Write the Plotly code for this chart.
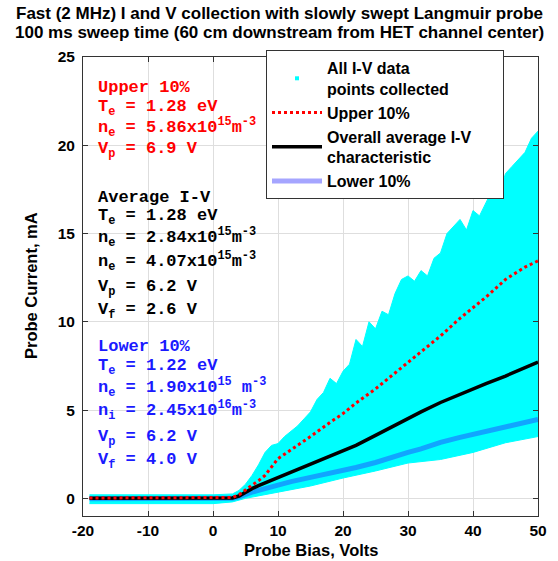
import plotly.graph_objects as go

# ---------------- data ----------------
# envelope of the cloud of all collected I-V points
cloud_x_top = [-19, -10, 0, 3, 4, 5, 6, 7, 8, 9, 10, 11, 12, 13, 14, 15, 16, 17, 18, 19, 20,
               21, 22, 23, 24, 25, 26, 27, 28, 29, 30, 31, 32, 33, 34, 35, 36, 37, 38, 39, 40,
               41, 42, 43, 44, 45, 46, 47, 48, 49, 50]
cloud_top = [0.2, 0.2, 0.2, 0.25, 0.45, 0.8, 1.3, 1.9, 2.6, 3.0, 3.1, 3.5, 3.8, 4.1, 4.5, 4.9, 5.6, 6.0, 6.8, 6.5, 7.2,
             7.6, 9.0, 8.6, 10.0, 9.6, 10.6, 10.4, 11.6, 12.4, 12.6, 12.3, 12.9, 12.6, 13.6, 13.9, 15.0, 15.4, 15.8, 15.2, 16.3,
             16.0, 16.8, 17.5, 17.2, 18.4, 18.8, 19.2, 19.6, 20.4, 20.8]
cloud_x_bot = [50, 45, 40, 35, 30, 25, 20, 15, 10, 5, 3, 0, -10, -19]
cloud_bot = [3.5, 3.15, 2.6, 2.2, 2.0, 1.55, 1.15, 0.7, 0.35, 0.0, -0.2, -0.3, -0.3, -0.3]

line_x = [-19, -10, 0, 3, 4, 5, 6, 7, 8, 10, 12, 15, 18, 20, 22, 25, 28, 30, 32, 35, 38, 40, 42, 45, 48, 50]
upper10 = [0.02, 0.02, 0.02, 0.05, 0.2, 0.5, 0.75, 1.0, 1.3, 2.25, 2.75, 3.5, 4.3, 4.8, 5.4, 6.2, 7.1, 7.7, 8.3, 9.2, 10.2, 10.8, 11.4, 12.4, 13.1, 13.45]
average = [0.0, 0.0, 0.0, 0.02, 0.13, 0.36, 0.55, 0.72, 0.87, 1.2, 1.45, 1.9, 2.35, 2.68, 3.0, 3.57, 4.15, 4.55, 4.9, 5.43, 5.9, 6.17, 6.5, 6.93, 7.4, 7.72]
lower10 = [-0.02, -0.02, -0.02, 0.0, 0.08, 0.23, 0.35, 0.45, 0.55, 0.79, 0.95, 1.19, 1.4, 1.55, 1.75, 2.03, 2.4, 2.6, 2.8, 3.17, 3.45, 3.62, 3.8, 4.1, 4.35, 4.47]

x_ticks = [-20, -10, 0, 10, 20, 30, 40, 50]
y_ticks = [0, 5, 10, 15, 20, 25]

title_lines = ["Fast (2 MHz) I and V collection with slowly swept Langmuir probe",
               "100 ms sweep time (60 cm downstream from HET channel center)"]
x_title = "Probe Bias, Volts"
y_title = "Probe Current, mA"

upper_lines = ["Upper 10%", "T<sub>e</sub> = 1.28 eV",
               "n<sub>e</sub> = 5.86x10<sup>15</sup>m<sup>-3</sup>", "V<sub>p</sub> = 6.9 V"]
avg_lines = ["Average I-V", "T<sub>e</sub> = 1.28 eV",
             "n<sub>e</sub> = 2.84x10<sup>15</sup>m<sup>-3</sup>",
             "n<sub>e</sub> = 4.07x10<sup>15</sup>m<sup>-3</sup>",
             "V<sub>p</sub> = 6.2 V", "V<sub>f</sub> = 2.6 V"]
lower_lines = ["Lower 10%", "T<sub>e</sub> = 1.22 eV",
               "n<sub>e</sub> = 1.90x10<sup>15</sup> m<sup>-3</sup>",
               "n<sub>i</sub> = 2.45x10<sup>16</sup>m<sup>-3</sup>",
               "V<sub>p</sub> = 6.2 V", "V<sub>f</sub> = 4.0 V"]

# ---------------- layout helpers (pixel -> paper) ----------------
W, H = 558, 561
ML, MR, MT, MB = 83, 20, 57, 45
PH = H - MT - MB
PW = W - ML - MR


def py(px):
    return (H - MB - px) / PH


def pxx(px):
    return (px - ML) / PW


# ---------------- figure ----------------
fig = go.Figure()

fig.add_trace(go.Scatter(
    x=cloud_x_top + cloud_x_bot, y=cloud_top + cloud_bot,
    mode="lines", fill="toself", fillcolor="#00ffff",
    line=dict(color="#00ffff", width=1), showlegend=False, hoverinfo="skip"))

fig.add_trace(go.Scatter(x=[None], y=[None], mode="markers",
                         marker=dict(color="#00ffff", size=4, symbol="square"),
                         name="All I-V data<br>points collected"))

blue_col = "rgba(40,40,255,0.42)"
fig.add_trace(go.Scatter(x=line_x, y=lower10, mode="lines",
                         line=dict(color=blue_col, width=5),
                         name="Lower 10%", showlegend=False))
fig.add_trace(go.Scatter(x=line_x, y=average, mode="lines",
                         line=dict(color="black", width=3.5),
                         name="Overall average I-V<br>characteristic", showlegend=False))
fig.add_trace(go.Scatter(x=line_x, y=upper10, mode="lines",
                         line=dict(color="red", width=3, dash="dot"),
                         name="Upper 10%"))
# legend entries in the reference order
fig.add_trace(go.Scatter(x=[None], y=[None], mode="lines",
                         line=dict(color="black", width=3.5),
                         name="Overall average I-V" + "\u00a0" * 6 + "<br>characteristic"))
fig.add_trace(go.Scatter(x=[None], y=[None], mode="lines",
                         line=dict(color=blue_col, width=5),
                         name="Lower 10%"))

sans = "Liberation Sans, Arial, sans-serif"
tick_font = dict(family=sans, size=15.5, color="black", weight="bold")
atitle_font = dict(family=sans, size=16.5, color="black", weight="bold")

fig.update_layout(
    width=W, height=H,
    margin=dict(l=ML, r=MR, t=MT, b=MB, autoexpand=False),
    paper_bgcolor="white", plot_bgcolor="white",
    legend=dict(x=pxx(266), y=py(50), xanchor="left", yanchor="top",
                bgcolor="white", bordercolor="#333333", borderwidth=1,
                font=dict(family=sans, size=16, color="black", weight="bold"),
                itemwidth=50, tracegroupgap=0),
    showlegend=True,
)

fig.update_xaxes(range=[-20, 50], tickvals=x_ticks, ticktext=[str(v) for v in x_ticks],
                 showgrid=True, gridcolor="#dedede", gridwidth=1, zeroline=False,
                 showline=True, linecolor="#333333", linewidth=1, mirror="ticks",
                 ticks="inside", ticklen=5, tickcolor="#333333",
                 tickfont=tick_font, ticklabelstandoff=0, automargin=False)
fig.update_yaxes(range=[-1, 25], tickvals=y_ticks, ticktext=[str(v) for v in y_ticks],
                 showgrid=True, gridcolor="#dedede", gridwidth=1, zeroline=False,
                 showline=True, linecolor="#333333", linewidth=1, mirror="ticks",
                 ticks="inside", ticklen=5, tickcolor="#333333",
                 tickfont=tick_font, ticklabelstandoff=4, automargin=False)

# axis titles
fig.add_annotation(text=x_title, xref="paper", yref="paper", x=pxx(311), y=py(550),
                   xanchor="center", yanchor="middle", showarrow=False, font=atitle_font)
fig.add_annotation(text=y_title, xref="paper", yref="paper", x=pxx(31), y=py(286),
                   xanchor="center", yanchor="middle", showarrow=False, textangle=-90,
                   font=atitle_font)

# title as two centred lines
for txt, ypx in zip(title_lines, [13, 32]):
    fig.add_annotation(text=txt, xref="paper", yref="paper", x=pxx(W / 2), y=py(ypx),
                       xanchor="center", yanchor="middle", showarrow=False,
                       font=dict(family=sans, size=17, color="black", weight="bold"))

mono = "Liberation Mono, Courier New, monospace"
blocks = [
    (upper_lines, "#ff0000", [87, 105, 127, 147]),
    (avg_lines, "#000000", [197, 214, 238, 261, 285, 308]),
    (lower_lines, "#1a1aff", [346, 364, 387, 410, 435, 458]),
]
for lines, col, centers in blocks:
    for txt, c in zip(lines, centers):
        has_sup = "<sup>" in txt
        has_sub = "<sub>" in txt
        shift = 3 if (has_sub and not has_sup) else 0
        fig.add_annotation(text=txt, xref="paper", yref="paper", x=pxx(96), y=py(c + shift),
                           xanchor="left", yanchor="middle", align="left", showarrow=False,
                           font=dict(family=mono, size=17, color=col, weight="bold"))

fig.write_html("out.html")
